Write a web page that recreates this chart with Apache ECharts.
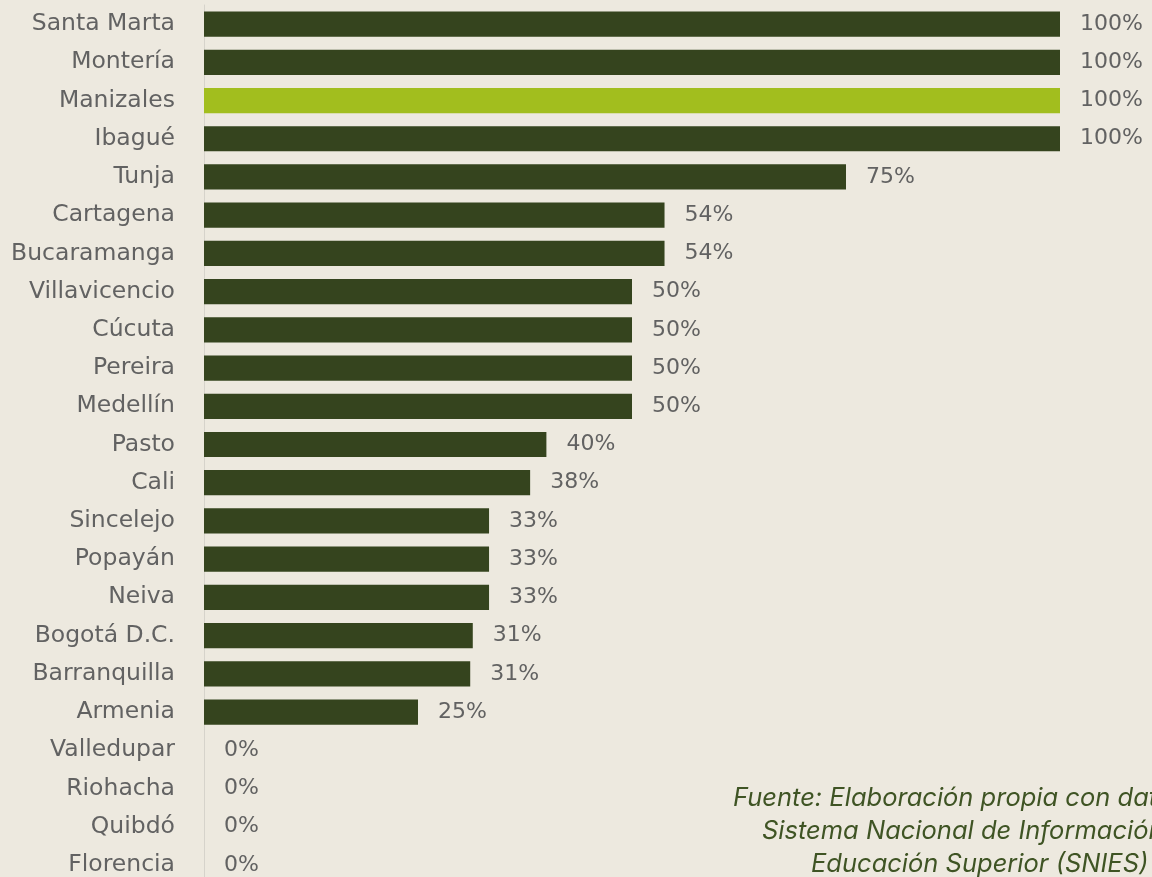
<!DOCTYPE html>
<html>
<head>
<meta charset="utf-8">
<script src="https://cdn.jsdelivr.net/npm/echarts@6/dist/echarts.min.js"></script>
<style>
  html, body { margin: 0; padding: 0; background: #ede9df; overflow: hidden; }
  #chart { width: 1152px; height: 900px; }
</style>
</head>
<body>
<div id="chart"></div>
<script>
// ciudades de arriba hacia abajo
const cities = ['Santa Marta', 'Montería', 'Manizales', 'Ibagué', 'Tunja', 'Cartagena',
  'Bucaramanga', 'Villavicencio', 'Cúcuta', 'Pereira', 'Medellín', 'Pasto', 'Cali',
  'Sincelejo', 'Popayán', 'Neiva', 'Bogotá D.C.', 'Barranquilla', 'Armenia',
  'Valledupar', 'Riohacha', 'Quibdó', 'Florencia']
const shares = [100, 100, 100, 100, 75, 53.8, 53.8, 50, 50, 50, 50, 40, 38.1,
  33.3, 33.3, 33.3, 31.4, 31.1, 25, 0, 0, 0, 0]
const highlight = 'Manizales'
const sourceLines = ['Fuente: Elaboración propia con datos',
  'Sistema Nacional de Información',
  'Educación Superior (SNIES) -']

// el div es más alto que la ventana: la última fila queda cortada como en el original
const chart = echarts.init(document.getElementById('chart'))

const option = {
  backgroundColor: '#ede9df',
  animation: false,
  grid: { left: 204, top: 5, width: 856, height: 879 },
  xAxis: {
    type: 'value', min: 0, max: 100, show: false
  },
  yAxis: {
    type: 'category',
    inverse: true,
    data: cities,
    axisLine: { show: true, lineStyle: { color: '#d6d3cb', width: 1 } },
    axisTick: { show: false },
    axisLabel: {
      margin: 29, color: '#626262', fontSize: 23.5,
      fontFamily: 'DejaVu Sans'
    }
  },
  series: [{
    type: 'bar',
    barCategoryGap: '34%',
    data: shares.map((v, i) => ({
      value: v,
      itemStyle: { color: cities[i] === highlight ? '#a2be1e' : '#35441e' }
    })),
    label: {
      show: true, position: 'right', distance: 20,
      color: '#626262', fontSize: 22, fontFamily: 'DejaVu Sans',
      formatter: p => Math.round(p.value) + '%'
    }
  }],
  graphic: sourceLines.map((t, i) => ({
    type: 'text',
    left: [733, 762, 811][i],
    top: 785 + i * 33,
    style: {
      text: t, fill: '#3f5424', fontSize: 25.5,
      fontFamily: 'Inter', fontStyle: 'italic'
    }
  }))
}

chart.setOption(option)
</script>
</body>
</html>
